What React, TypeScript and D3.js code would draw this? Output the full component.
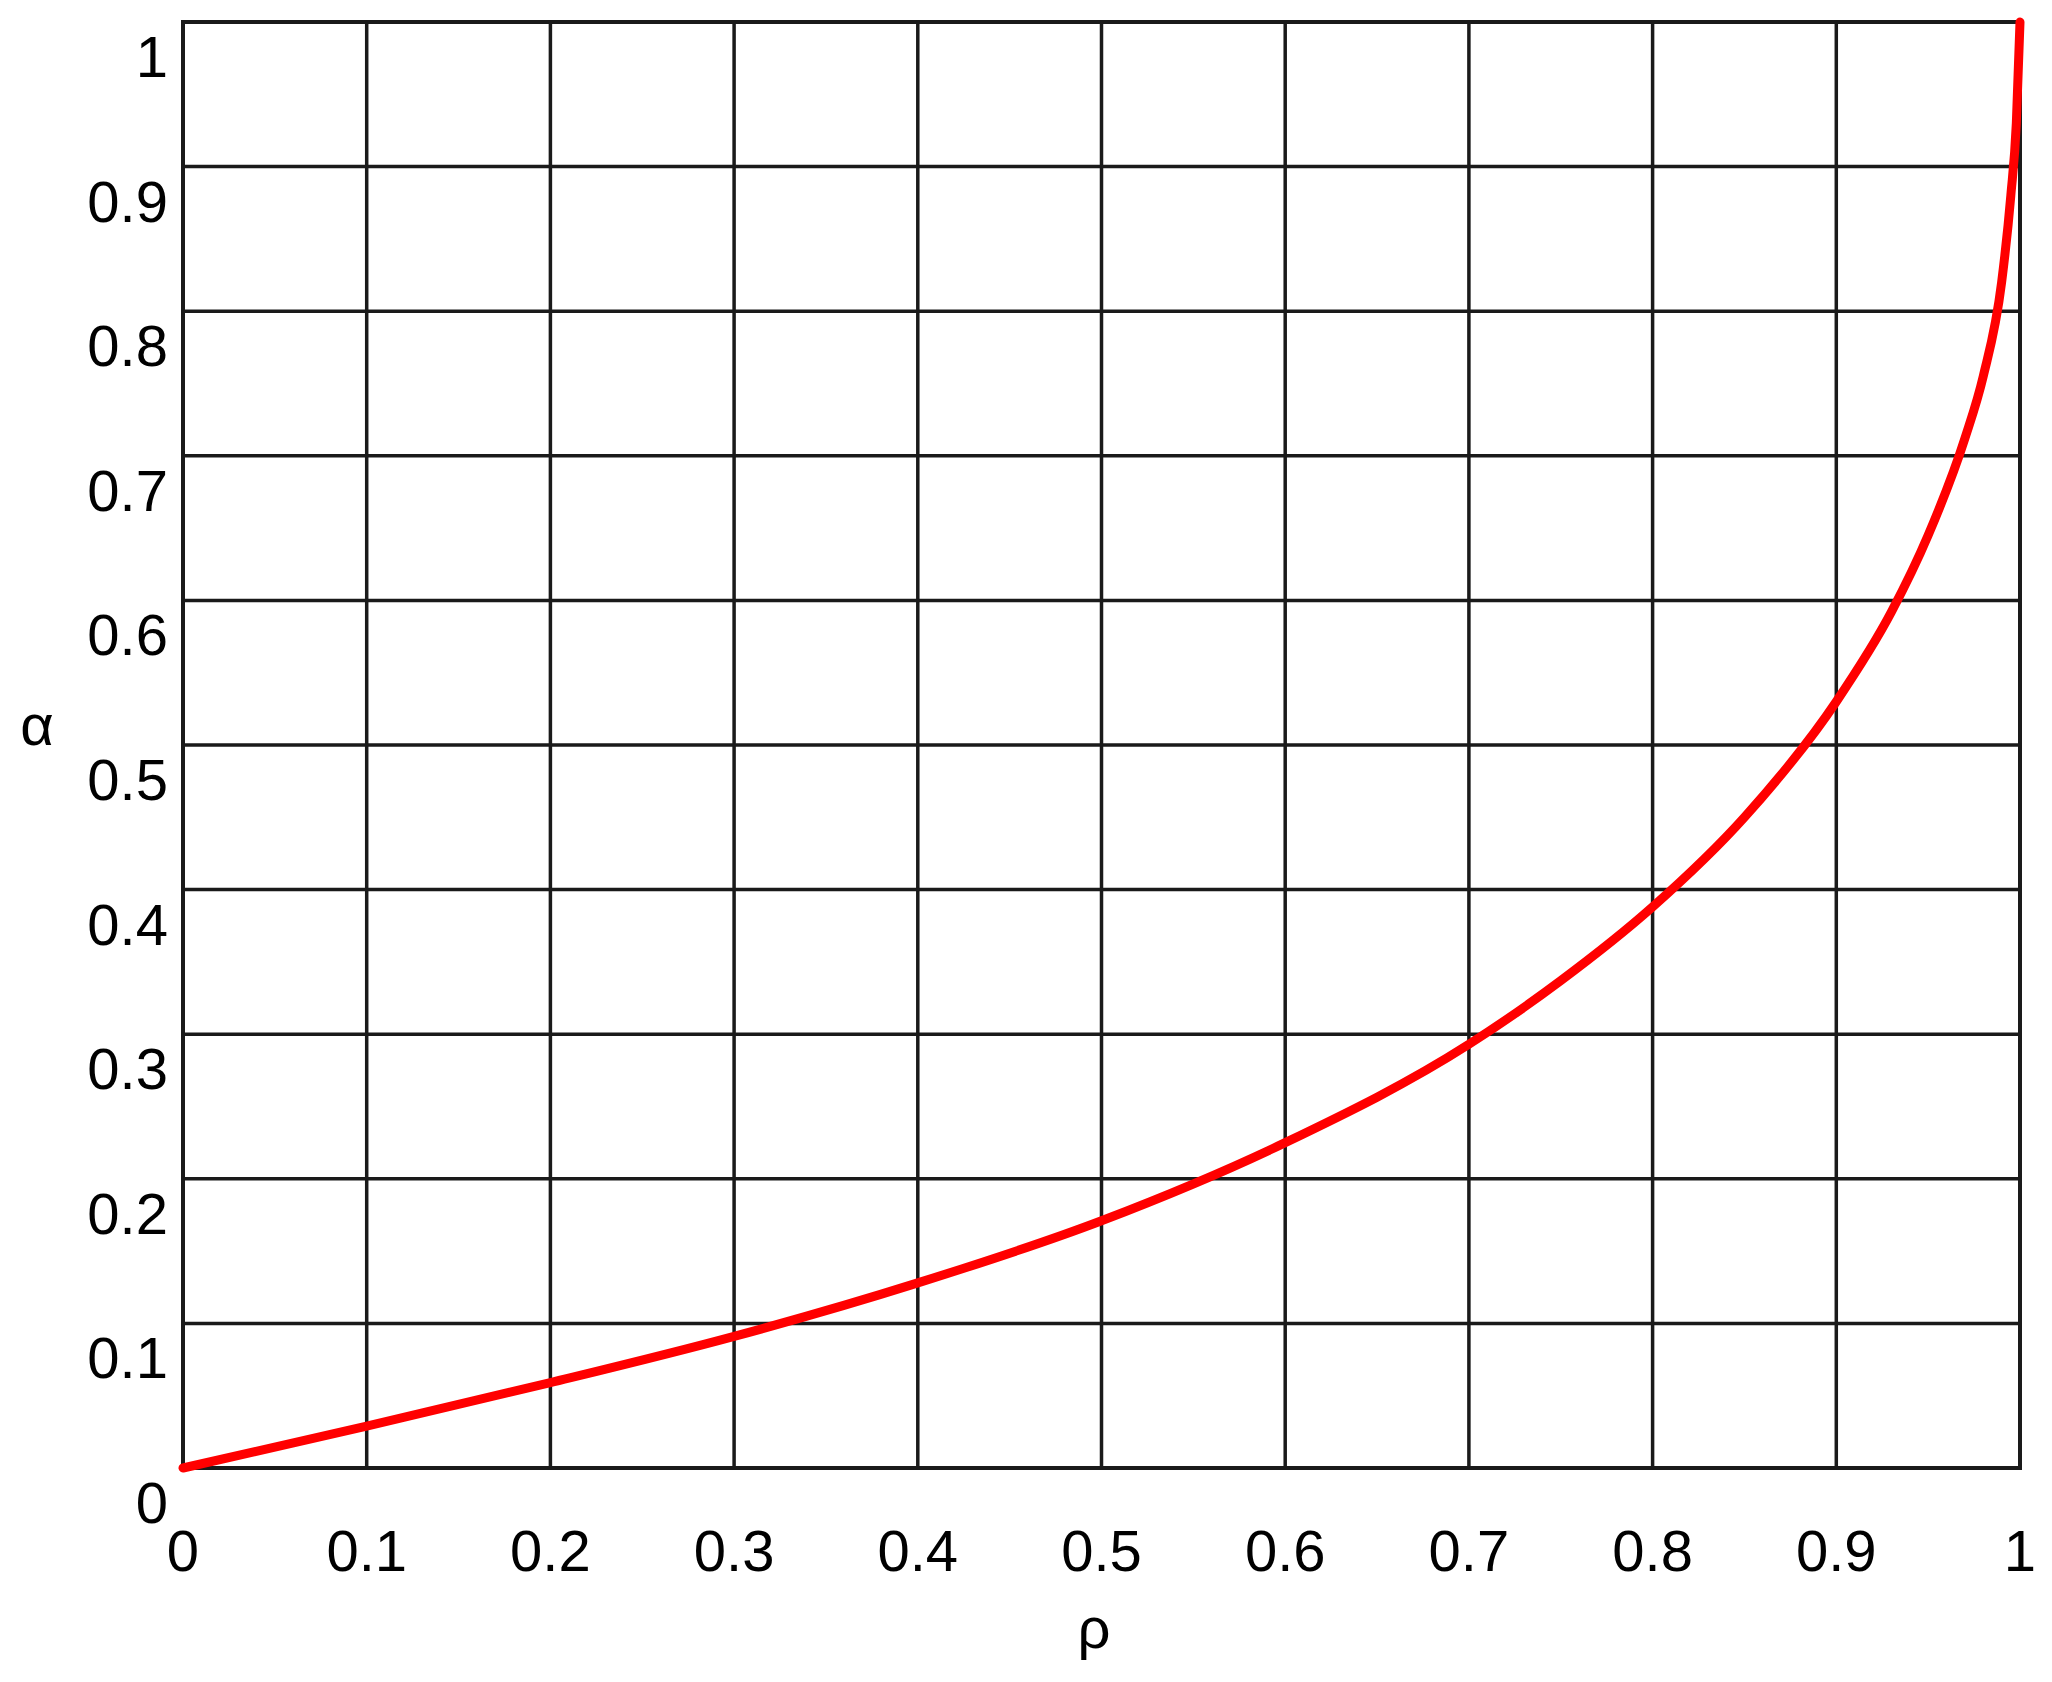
import React from 'react';
import * as d3 from 'd3';

// rho values along the curve and the alpha read at each one
const rhoValues = [0, 0.1, 0.2, 0.3, 0.4, 0.5, 0.6, 0.7, 0.75, 0.8, 0.85, 0.9, 0.93, 0.95, 0.97, 0.98, 0.99, 0.995, 0.998, 1.0];
const alphaValues = [0, 0.029, 0.059, 0.091, 0.128, 0.171, 0.225, 0.293, 0.337, 0.388, 0.45, 0.53, 0.592, 0.645, 0.712, 0.755, 0.82, 0.88, 0.93, 1.0];

const xTicks = [0, 0.1, 0.2, 0.3, 0.4, 0.5, 0.6, 0.7, 0.8, 0.9, 1];
const yTicks = [0, 0.1, 0.2, 0.3, 0.4, 0.5, 0.6, 0.7, 0.8, 0.9, 1];
const xTickLabels = ['0', '0.1', '0.2', '0.3', '0.4', '0.5', '0.6', '0.7', '0.8', '0.9', '1'];
const yTickLabels = ['0', '0.1', '0.2', '0.3', '0.4', '0.5', '0.6', '0.7', '0.8', '0.9', '1'];

const W = 2052;
const H = 1682;
const left = 183;
const right = 2020;
const top = 22;
const bottom = 1468;

export default function App() {
  const x = d3.scaleLinear().domain([0, 1]).range([left, right]);
  const y = d3.scaleLinear().domain([0, 1]).range([bottom, top]);

  const points = rhoValues.map((r, i) => [r, alphaValues[i]] as [number, number]);
  const line = d3
    .line<[number, number]>()
    .x((d) => x(d[0]))
    .y((d) => y(d[1]))
    .curve(d3.curveMonotoneX);

  const font = '"Liberation Sans", Arial, sans-serif';

  return (
    <svg
      width={W}
      height={H}
      style={{ position: 'absolute', left: 0, top: 0, background: '#fff' }}
    >
      <rect x={0} y={0} width={W} height={H} fill="#fff" />

      {/* grid */}
      <g stroke="#1a1a1a" strokeWidth={3.5}>
        {xTicks.map((t) => (
          <line key={'gx' + t} x1={x(t)} x2={x(t)} y1={y(0)} y2={y(1)} />
        ))}
        {yTicks.map((t) => (
          <line key={'gy' + t} x1={x(0)} x2={x(1)} y1={y(t)} y2={y(t)} />
        ))}
      </g>
      <rect
        x={left}
        y={top}
        width={right - left}
        height={bottom - top}
        fill="none"
        stroke="#1a1a1a"
        strokeWidth={4}
      />

      {/* curve */}
      <path
        d={line(points) || ''}
        fill="none"
        stroke="#ff0000"
        strokeWidth={9}
        strokeLinecap="round"
        strokeLinejoin="round"
      />

      {/* x tick labels */}
      <g fontFamily={font} fontSize={58} fill="#000" textAnchor="middle">
        {xTicks.map((t, i) => (
          <text key={'xl' + t} x={x(t)} y={1571}>
            {xTickLabels[i]}
          </text>
        ))}
      </g>

      {/* y tick labels */}
      <g fontFamily={font} fontSize={58} fill="#000" textAnchor="end">
        {yTicks.map((t, i) => (
          <text key={'yl' + t} x={168} y={y(t) + 55}>
            {yTickLabels[i]}
          </text>
        ))}
      </g>

      {/* axis titles */}
      <text x={37} y={745} fontFamily={font} fontSize={58} fill="#000" textAnchor="middle">
        α
      </text>
      <text x={1094} y={1648} fontFamily={font} fontSize={58} fill="#000" textAnchor="middle">
        ρ
      </text>
    </svg>
  );
}
